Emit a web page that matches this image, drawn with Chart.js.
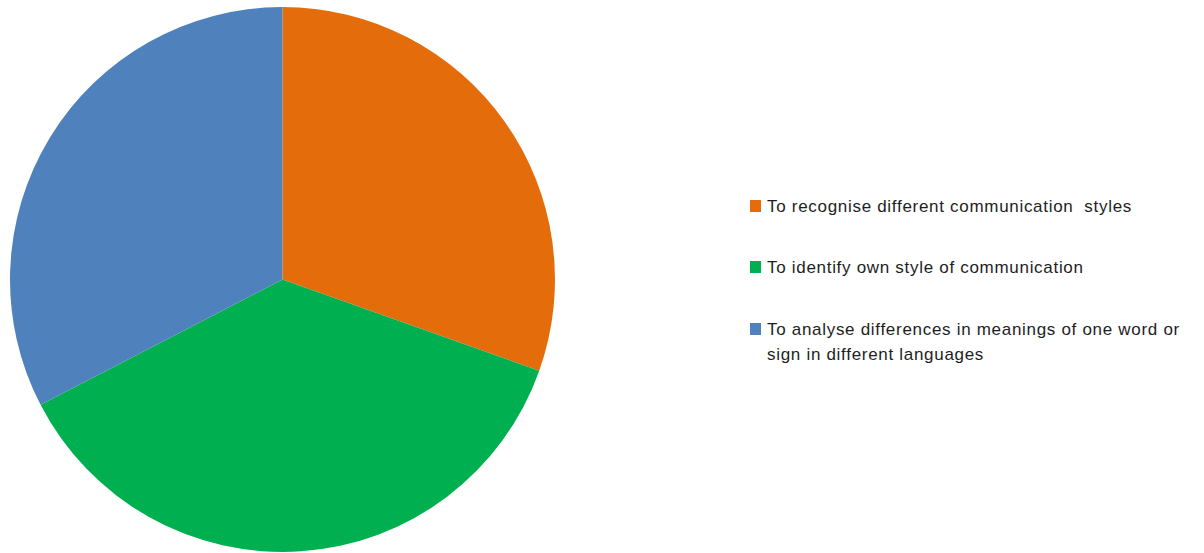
<!DOCTYPE html>
<html><head><meta charset="utf-8">
<script src="https://cdn.jsdelivr.net/npm/chart.js@4"></script>
<style>
html,body{margin:0;padding:0;background:#fff;width:1204px;height:553px;overflow:hidden;}
#wrap{position:absolute;left:0;top:0;width:565px;height:553px;}
#legend{position:absolute;left:750px;top:0;width:454px;font-family:"Liberation Sans",Arial,sans-serif;font-size:17px;letter-spacing:0.7px;color:#1e1e1e;}
.item{position:absolute;left:0;display:flex;align-items:flex-start;line-height:25px;white-space:nowrap;}
.sw{width:11px;height:12px;margin-top:6px;margin-right:6px;flex:none;}
</style></head>
<body>
<div id="wrap"><canvas id="c"></canvas></div>
<div id="legend"></div>
<script>
const categories = [
  "To recognise different communication  styles",
  "To identify own style of communication",
  "To analyse differences in meanings of one word or sign in different languages"
];
const values = [14, 17, 15];
const colors = ["#E46C0A", "#00B050", "#4F81BD"];
const legendLines = [
  ["To recognise different communication\u00a0 styles"],
  ["To identify own style of communication"],
  ["To analyse differences in meanings of one word or", "sign in different languages"]
];
const legendTops = [194, 255, 317];

new Chart(document.getElementById('c'), {
  type: 'pie',
  data: { labels: categories, datasets: [{ data: values, backgroundColor: colors, borderWidth: 0 }] },
  options: {
    responsive: true, maintainAspectRatio: false, animation: false,
    layout: { padding: { left: 10, right: 10, top: 7, bottom: 1 } },
    plugins: { legend: { display: false }, tooltip: { enabled: false } }
  }
});

const lg = document.getElementById('legend');
legendLines.forEach((lines, i) => {
  const d = document.createElement('div');
  d.className = 'item';
  d.style.top = legendTops[i] + 'px';
  const sw = document.createElement('div');
  sw.className = 'sw'; sw.style.background = colors[i];
  const t = document.createElement('div');
  t.innerHTML = lines.join('<br>');
  d.appendChild(sw); d.appendChild(t);
  lg.appendChild(d);
});
</script>
</body></html>
